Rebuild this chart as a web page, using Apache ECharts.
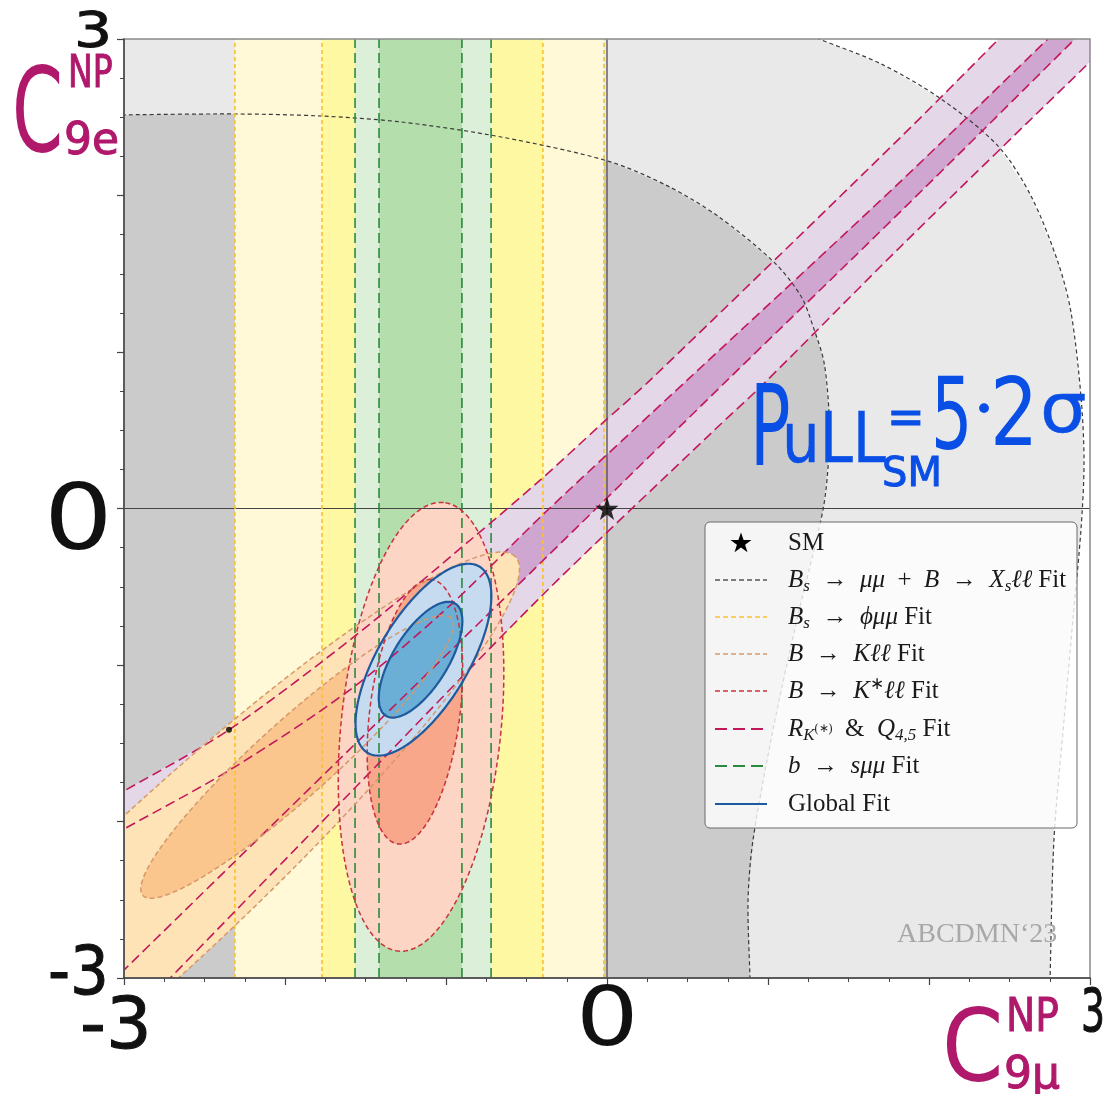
<!DOCTYPE html>
<html>
<head>
<meta charset="utf-8">
<script src="https://cdn.jsdelivr.net/npm/echarts@6/dist/echarts.min.js"></script>
<style>
html,body{margin:0;padding:0;background:#ffffff;}
#c{width:1106px;height:1094px;}
</style>
</head>
<body>
<div id="c"></div>
<script>
// ---------------- DATA (axes: x = C9mu^NP, y = C9e^NP) ----------------
const axisRange = [-3, 3];
const majorStep = 1;

// Bs->mumu + B->Xs ll fit : outer (2 sigma) and inner (1 sigma) contour boundaries
const bsXsOuterArc = [[1.10,3.09],[1.317,3.0],[1.702,2.841],[2.075,2.617],[2.429,2.316],[2.634,1.996],[2.801,1.574],[2.882,1.254],[2.944,0.717],[2.963,0.294],[2.944,-0.134],[2.894,-0.710],[2.839,-1.350],[2.776,-2.118],[2.752,-3.0],[2.75,-3.1]];
const bsXsInnerArc = [[-3.1,2.514],[-2.317,2.521],[-1.776,2.508],[-1.280,2.470],[-0.658,2.374],[0.006,2.220],[0.379,2.060],[0.689,1.868],[1.037,1.574],[1.205,1.356],[1.286,1.145],[1.348,0.934],[1.379,0.614],[1.379,0.358],[1.342,-0.006],[1.180,-0.710],[1.031,-1.414],[0.907,-2.118],[0.876,-2.502],[0.888,-3.0],[0.89,-3.1]];

// Bs->phi mumu fit : vertical bands in C9mu
const phiBand2s = [-2.311, -0.019];
const phiBand1s = [-1.770, -0.398];

// b->s mumu fit : vertical bands in C9mu
const bsmmBand2s = [-1.565, -0.720];
const bsmmBand1s = [-1.416, -0.901];

// R_K(*) & Q4,5 fit : band edges
const rkUpper2s = [[-3.15,-1.885],[-2.988,-1.798],[-2.348,-1.414],[-1.571,-0.819],[-0.845,-0.198],[-0.410,0.186],[-0.037,0.537],[0.273,0.825],[1.826,2.374],[2.435,3.001],[2.6,3.17]];
const rkUpper1s = [[-3.15,-2.13],[-3.0,-2.048],[-2.311,-1.651],[-1.571,-1.139],[-0.969,-0.614],[-0.410,-0.051],[0.168,0.505],[0.503,0.825],[1.826,2.092],[2.739,3.001],[2.9,3.16]];
const rkLower1s = [[-3.15,-3.1],[-2.988,-2.937],[-1.7,-1.641],[-0.410,-0.345],[0.460,0.531],[0.752,0.825],[1.826,1.900],[2.907,3.001],[3.05,3.15]];
const rkLower2s = [[-2.81,-3.1],[-2.714,-3.001],[-1.590,-1.811],[-0.410,-0.563],[0.665,0.499],[0.957,0.781],[1.826,1.676],[3.006,2.860],[3.15,3.0]];

// contour ellipses: [centre C9mu, centre C9e, semi-major, semi-minor, tilt in degrees]
const kllContour2s   = [-2.770, -2.425, 3.054, 0.492, 43.9];
const kllContour1s   = [-1.925, -1.587, 1.304, 0.240, 42.8];
const kstllContour2s = [-1.155, -1.395, 1.440, 0.497, 84.4];
const kstllContour1s = [-1.193, -1.299, 0.851, 0.280, 83.0];
const globalContour2s = [-1.140, -0.966, 0.689, 0.281, 60.0];
const globalContour1s = [-1.158, -0.966, 0.418, 0.172, 59.3];

const smPoint = [[0, 0]];
const markerDot = [[-2.348, -1.414]];

const legendLabels = [
  'SM',
  '{i|B}{s|s}  →  {i|μμ}  +  {i|B}  →  {i|X}{s|s}{i|ℓℓ} Fit',
  '{i|B}{s|s}  →  {i|ϕμμ} Fit',
  '{i|B}  →  {i|Kℓℓ} Fit',
  '{i|B}  →  {i|K}{sp|∗}{i|ℓℓ} Fit',
  '{i|R}{s|K}{ss|(∗)}  &  {i|Q}{s|4,5} Fit',
  '{i|b}  →  {i|sμμ} Fit',
  'Global Fit'
];
const watermark = 'ABCDMN‘23';

// ---------------- helpers ----------------
function ellipsePoints(e, n) {
  const cx = e[0], cy = e[1], a = e[2], b = e[3], t = e[4] * Math.PI / 180;
  const c = Math.cos(t), s = Math.sin(t), pts = [];
  for (let i = 0; i < n; i++) {
    const th = 2 * Math.PI * i / n;
    const u = a * Math.cos(th), v = b * Math.sin(th);
    pts.push([cx + u * c - v * s, cy + u * s + v * c]);
  }
  return pts;
}
function bandPoly(band) {
  return [[band[0], axisRange[0]], [band[1], axisRange[0]], [band[1], axisRange[1]], [band[0], axisRange[1]]];
}
function vline(x) { return [[x, axisRange[0]], [x, axisRange[1]]]; }

let zc = 2;
function fillSeries(name, polys, fill) {
  return {
    type: 'custom', name: name, coordinateSystem: 'cartesian2d', clip: true, silent: true, z: zc++,
    data: [[0, 0]],
    renderItem: function (params, api) {
      return { type: 'group', children: polys.map(function (pts) {
        return { type: 'polygon', shape: { points: pts.map(function (p) { return api.coord(p); }) },
                 style: { fill: fill, stroke: 'none' } };
      }) };
    }
  };
}
function lineSeries(name, lines, stroke, width, dash, closed, smooth) {
  return {
    type: 'custom', name: name, coordinateSystem: 'cartesian2d', clip: true, silent: true, z: zc++,
    data: [[0, 0]],
    renderItem: function (params, api) {
      return { type: 'group', children: lines.map(function (pts) {
        return { type: closed ? 'polygon' : 'polyline',
                 shape: { points: pts.map(function (p) { return api.coord(p); }), smooth: smooth || 0 },
                 style: { fill: 'none', stroke: stroke, lineWidth: width, lineDash: dash } };
      }) };
    }
  };
}

const corner = function (x, y) { return [x, y]; };
const outerPoly = [corner(-3.3, 3.3)].concat(bsXsOuterArc, [corner(-3.3, -3.3)]);
const innerPoly = [corner(-3.3, -3.3), corner(-3.3, 2.514)].concat(bsXsInnerArc, [corner(0.89, -3.3)]);
const rk2Poly = rkUpper2s.concat([corner(3.3, 3.3)], rkLower2s.slice().reverse(), [corner(-3.3, -3.3)]);
const rk1Poly = rkUpper1s.concat([corner(3.3, 3.3)], rkLower1s.slice().reverse(), [corner(-3.3, -3.3)]);

const N = 200;
const STAR = 'path://M50,2 L61.8,36.2 L97.6,36.2 L68.6,57.4 L79.4,91.6 L50,70.4 L20.6,91.6 L31.4,57.4 L2.4,36.2 L38.2,36.2 Z';
const series = [
  fillSeries('bsxs2', [outerPoly], '#e9e9e9'),
  fillSeries('bsxs1', [innerPoly], '#cbcbcb'),
  fillSeries('phi2', [bandPoly(phiBand2s)], '#fff9d8'),
  fillSeries('phi1', [bandPoly(phiBand1s)], '#fff8a2'),
  fillSeries('bsmm2', [bandPoly(bsmmBand2s)], '#dcefd8'),
  fillSeries('bsmm1', [bandPoly(bsmmBand1s)], '#b4dfac'),
  fillSeries('rk2', [rk2Poly], '#e3d7e8'),
  fillSeries('rk1', [rk1Poly], '#cfa6cf'),
  fillSeries('kll2', [ellipsePoints(kllContour2s, N)], '#fde3b6'),
  fillSeries('kll1', [ellipsePoints(kllContour1s, N)], '#fbc58e'),
  fillSeries('kst2', [ellipsePoints(kstllContour2s, N)], '#fcd5c4'),
  fillSeries('kst1', [ellipsePoints(kstllContour1s, N)], '#f8a78a'),
  fillSeries('glob2', [ellipsePoints(globalContour2s, N)], '#c6dbef'),
  fillSeries('glob1', [ellipsePoints(globalContour1s, N)], '#6baed6'),
  lineSeries('zero', [vline(0), [[axisRange[0], 0], [axisRange[1], 0]]], '#444444', 1.2, null, false),
  lineSeries('bsxsL', [bsXsOuterArc, bsXsInnerArc], '#3a3a3a', 1.2, [4, 3], false, 0.3),
  lineSeries('phiL', [vline(phiBand2s[0]), vline(phiBand2s[1]), vline(phiBand1s[0]), vline(phiBand1s[1])], '#fbc02d', 1.6, [4, 3], false),
  lineSeries('bsmmL', [vline(bsmmBand2s[0]), vline(bsmmBand2s[1]), vline(bsmmBand1s[0]), vline(bsmmBand1s[1])], '#2b8a3e', 1.6, [10, 5], false),
  lineSeries('rkL', [rkUpper2s, rkUpper1s, rkLower1s, rkLower2s], '#c2185b', 1.6, [10, 5], false, 0.3),
  lineSeries('kllL', [ellipsePoints(kllContour2s, N), ellipsePoints(kllContour1s, N)], '#d4996a', 1.5, [5, 3], true),
  lineSeries('kstL', [ellipsePoints(kstllContour2s, N), ellipsePoints(kstllContour1s, N)], '#c8323c', 1.5, [5, 3], true),
  lineSeries('globL', [ellipsePoints(globalContour2s, N), ellipsePoints(globalContour1s, N)], '#1f5a9e', 2.2, null, true),
  { type: 'scatter', name: 'dot', data: markerDot, symbol: 'circle', symbolSize: 6, itemStyle: { color: '#000' }, z: 30, silent: true },
  { type: 'scatter', name: 'SM', data: smPoint, symbol: STAR, symbolSize: 23, itemStyle: { color: '#000' }, z: 31, silent: true }
];

// ---------------- legend (drawn with graphic elements) ----------------
const LX = 705, LY = 522, LW = 372, LH = 306;
const rowY = [543, 580, 617, 654, 691, 729, 766, 804];
const handleStyles = [
  null,
  { c: '#555555', d: [5, 3], w: 1.5 },
  { c: '#fbc02d', d: [5, 3], w: 1.5 },
  { c: '#d4996a', d: [5, 3], w: 1.5 },
  { c: '#c8323c', d: [5, 3], w: 1.5 },
  { c: '#c2185b', d: [12, 6], w: 1.8 },
  { c: '#2b8a3e', d: [12, 6], w: 1.8 },
  { c: '#1f5a9e', d: null, w: 2 }
];
const richStyles = {
  i: { fontStyle: 'italic', fontSize: 25, fontFamily: 'Liberation Serif', lineHeight: 30 },
  s: { fontSize: 17, fontStyle: 'italic', fontFamily: 'Liberation Serif', verticalAlign: 'bottom', lineHeight: 30 },
  sp: { fontSize: 17, fontFamily: 'Liberation Serif', verticalAlign: 'top', lineHeight: 30 },
  ss: { fontSize: 12, fontFamily: 'Liberation Serif', verticalAlign: 'middle', lineHeight: 30 }
};
// star outline for the legend handle (unit coordinates of the star shape)
const starUnit = [[50,2],[61.8,36.2],[97.6,36.2],[68.6,57.4],[79.4,91.6],[50,70.4],[20.6,91.6],[31.4,57.4],[2.4,36.2],[38.2,36.2]];
const graphics = [];
graphics.push({ type: 'rect', z: 100, shape: { x: LX, y: LY, width: LW, height: LH, r: 5 },
  style: { fill: 'rgba(255,255,255,0.8)', stroke: '#6a6a6a', lineWidth: 1 } });
rowY.forEach(function (y, k) {
  if (k === 0) {
    graphics.push({ type: 'polygon', z: 101,
      shape: { points: starUnit.map(function (p) { return [730 + p[0] * 0.22, y - 11 + p[1] * 0.22]; }) },
      style: { fill: '#000' } });
  } else {
    const h = handleStyles[k];
    graphics.push({ type: 'line', z: 101, shape: { x1: 715, y1: y, x2: 767, y2: y },
      style: { stroke: h.c, lineWidth: h.w, lineDash: h.d } });
  }
  graphics.push({ type: 'text', z: 101, x: 788, y: y,
    style: { text: legendLabels[k], x: 0, y: 0, font: '25px "Liberation Serif"', fill: '#1a1a1a',
      lineHeight: 30, textAlign: 'left', textVerticalAlign: 'middle', align: 'left', verticalAlign: 'middle', rich: richStyles } });
});
graphics.push({ type: 'text', z: 101, x: 897, y: 935,
  style: { text: watermark, x: 0, y: 0, font: '28px "Liberation Serif"', fill: '#a8a8a8',
    textAlign: 'left', textVerticalAlign: 'middle', align: 'left', verticalAlign: 'middle' } });

// ---------------- handwritten annotations ----------------
function hw(text, x, y, size, color, sx, lw, weight) {
  return { type: 'text', z: 110, x: x, y: y, scaleX: sx || 1, scaleY: 1,
    style: { text: text, x: 0, y: 0, font: (weight || 'normal') + ' ' + size + 'px "DejaVu Sans"', fill: color,
      stroke: lw ? color : null, lineWidth: lw || 0,
      textAlign: 'left', textVerticalAlign: 'middle', align: 'left', verticalAlign: 'middle' } };
}
const INK = '#111111', MAG = '#b0186b', BLU = '#0a4fe5';
graphics.push(
  hw('3', 74, 34, 50, INK, 1.2, 1),
  hw('C', 12, 120, 118, MAG, 0.62, 0),
  hw('NP', 68, 76, 44, MAG, 0.75, 1),
  hw('9e', 64, 143, 44, MAG, 1.0, 1),
  hw('0', 44, 526, 90, INK, 1.2, 0),
  hw('-3', 48, 976, 68, INK, 0.9, 1),
  hw('-3', 80, 1029, 72, INK, 1.0, 1),
  hw('0', 576, 1024, 82, INK, 1.2, 0),
  hw('C', 942, 1055, 100, MAG, 0.88, 0),
  hw('NP', 1006, 1019, 46, MAG, 0.85, 1),
  hw('9μ', 1004, 1077, 44, MAG, 1.0, 1),
  hw('3', 1081, 1016, 58, INK, 0.65, 1),
  hw('P', 750, 436, 112, BLU, 0.6, 0),
  hw('uLL', 782, 444, 70, BLU, 0.85, 0.5),
  hw('SM', 882, 476, 40, BLU, 1.0, 1),
  hw('=', 887, 421, 50, BLU, 0.9, 1),
  hw('5', 931, 423, 100, BLU, 0.65, 0),
  hw('•', 974, 412, 34, BLU, 1.0, 0),
  hw('2', 990, 420, 95, BLU, 0.8, 0),
  hw('σ', 1040, 414, 70, BLU, 1.05, 0.5)
);

// ---------------- chart ----------------
const axisCommon = {
  type: 'value', min: axisRange[0], max: axisRange[1], interval: majorStep, z: 60,
  axisLine: { show: true, onZero: false, lineStyle: { color: '#444444', width: 1.5 } },
  axisTick: { show: true, inside: false, length: 7, lineStyle: { color: '#444444', width: 1.2 } },
  minorTick: { show: true, splitNumber: 4, length: 4, lineStyle: { color: '#444444', width: 1 } },
  axisLabel: { show: false },
  splitLine: { show: false }
};
const chart = echarts.init(document.getElementById('c'), null, { renderer: 'canvas' });
chart.setOption({
  animation: false,
  backgroundColor: '#ffffff',
  grid: { left: 124, top: 39, width: 966, height: 939, show: true, backgroundColor: 'rgba(0,0,0,0)',
          borderColor: '#8a8a8a', borderWidth: 1.5, z: 50 },
  xAxis: axisCommon,
  yAxis: axisCommon,
  series: series,
  graphic: { elements: graphics }
});
</script>
</body>
</html>
